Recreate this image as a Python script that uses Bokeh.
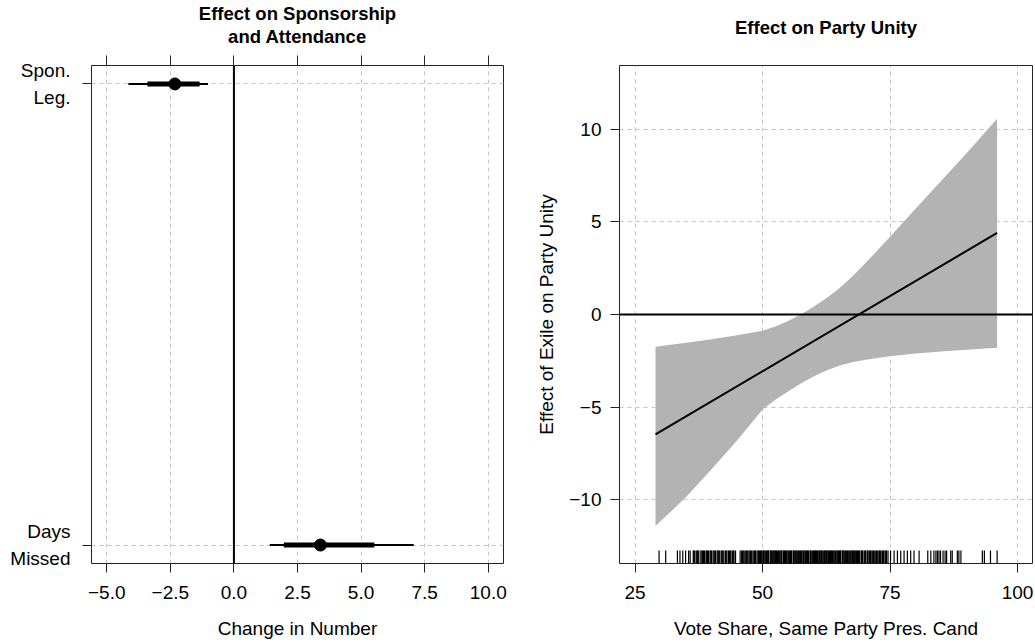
from bokeh.plotting import figure
from bokeh.layouts import row
from bokeh.models import Range1d, FixedTicker, LinearAxis, Span, ColumnDataSource, Title
from bokeh.embed import file_html
from bokeh.resources import INLINE

FONT = "Liberation Sans"

# ---------------- data: left panel ----------------
left_title_lines = ["Effect on Sponsorship", "and Attendance"]
cat_names = ["Spon.\nLeg.", "Days\nMissed"]
cat_pos = [2, 1]
est = [-2.32, 3.40]
ci95_lo = [-4.15, 1.41]
ci95_hi = [-1.02, 7.07]
ci90_lo = [-3.40, 1.96]
ci90_hi = [-1.35, 5.52]
left_ticks = [-5.0, -2.5, 0.0, 2.5, 5.0, 7.5, 10.0]
left_tick_labels = ["\u22125.0", "\u22122.5", "0.0", "2.5", "5.0", "7.5", "10.0"]

# ---------------- data: right panel ----------------
band_x = [29, 35, 40, 45, 50, 52.5, 55, 57.5, 60, 62.5, 65, 67.5, 70, 72.5, 75, 80, 85, 90, 96]
band_upper = [-1.74, -1.52, -1.33, -1.12, -0.88, -0.65, -0.35, 0.0, 0.42, 0.88, 1.4, 2.02, 2.72,
              3.45, 4.2, 5.7, 7.2, 8.7, 10.56]
band_lower = [-11.41, -9.85, -8.35, -6.8, -5.12, -4.6, -4.15, -3.72, -3.35, -3.02, -2.76, -2.58,
              -2.45, -2.34, -2.25, -2.1, -2.0, -1.9, -1.8]
fit_x = [29, 96]
fit_y = [-6.47, 4.40]
rug_x = [29.7, 31.0, 33.3, 33.8, 34.35, 34.9, 35.5, 35.8,
         36.4, 36.7, 37.0, 37.2, 37.5, 37.9, 38.1, 38.4, 38.6, 38.9, 39.2, 39.4, 39.7, 40.0,
         40.3, 40.5, 40.8, 41.1, 41.3, 41.6, 41.9, 42.2, 42.4, 42.7, 43.0, 43.3, 43.5, 43.8,
         44.1, 44.4, 44.7, 45.6, 45.9, 46.2, 46.4, 46.7, 47.0, 47.3, 47.5, 47.8, 48.1, 48.3,
         48.6, 48.9, 49.1, 49.4, 49.6, 49.9, 50.1, 50.3, 50.5, 50.8, 51.0, 51.2, 51.5, 51.7,
         51.9, 52.2, 52.4, 52.6, 52.9, 53.1, 53.4, 53.6, 53.8, 54.1, 54.3, 54.5, 54.8, 55.0,
         55.3, 55.5, 55.7, 56.0, 56.2, 56.4, 56.7, 56.9, 57.2, 57.4, 57.6, 57.9, 58.1, 58.3,
         58.6, 58.8, 59.0, 59.3, 59.5, 59.7, 60.0, 60.2, 60.4, 60.6, 60.9, 61.1, 61.3, 61.5,
         61.7, 62.0, 62.2, 62.4, 62.6, 62.8, 63.1, 63.3, 63.5, 63.7, 64.0, 64.2, 64.4, 64.6,
         64.9, 65.1, 65.3, 65.6, 65.8, 66.0, 66.3, 66.5, 66.8, 67.0, 67.3, 67.5, 67.8, 68.0,
         68.3, 68.6, 68.8, 69.1, 69.4, 69.6, 69.9, 70.2, 70.5, 70.7, 71.0, 71.3, 71.6, 71.9,
         72.2, 72.5, 72.8, 73.1, 73.4, 73.7, 74.0, 74.3, 74.6,
         36.55, 37.35, 38.25, 39.05, 39.85, 40.65, 41.45, 42.05, 42.85, 43.65, 44.25, 46.05,
         46.85, 47.65, 48.45, 49.25, 49.75, 50.2, 50.65, 51.1, 51.6, 52.05, 52.5, 52.75, 53.25,
         53.7, 54.2, 54.65, 55.15, 55.6, 56.1, 56.55, 57.05, 57.5, 58.0, 58.45, 58.9, 59.4,
         59.85, 60.3, 60.75, 61.2, 61.6, 62.1, 62.5, 62.95, 63.4, 63.85, 64.3, 64.75, 65.2,
         65.7, 66.15, 66.65, 67.15, 67.65, 68.15, 68.45, 68.95, 69.5, 70.05, 70.6, 71.15,
         71.75, 72.35, 72.95, 73.55, 74.15,
         75.1, 75.8, 76.45, 77.1, 77.75, 78.4, 79.05, 79.7, 80.7, 82.4, 83.0, 83.6, 84.0,
         84.3, 84.6, 84.9, 85.4, 85.8, 86.1, 86.9, 87.2, 88.2, 88.5, 88.9, 93.1, 93.5, 94.7, 96.0]
right_xticks = [25, 50, 75, 100]
right_xtick_labels = ["25", "50", "75", "100"]
right_yticks = [-10, -5, 0, 5, 10]
right_ytick_labels = ["\u221210", "\u22125", "0", "5", "10"]

GRID = "#C4C4C4"
FRAME = "#222222"
TXT = "#000000"
LBL = "19px"


def style_axis(ax):
    ax.axis_line_color = None
    ax.major_tick_line_color = FRAME
    ax.major_tick_out = 9
    ax.major_tick_in = 0
    ax.minor_tick_line_color = None
    ax.major_label_text_font = FONT
    ax.major_label_text_font_size = LBL
    ax.major_label_text_color = TXT
    ax.axis_label_text_font = FONT
    ax.axis_label_text_font_size = LBL
    ax.axis_label_text_font_style = "normal"
    ax.axis_label_text_color = TXT


def make_title(text, standoff):
    return Title(text=text, align="center", text_font=FONT, text_font_size="18.5px",
                 text_font_style="bold", text_color=TXT, standoff=standoff, text_line_height=1.0)


# ---------------- left figure ----------------
p1 = figure(width=520, height=644, x_range=Range1d(-5.6, 10.6), y_range=Range1d(0.96, 2.04),
            output_backend="svg", toolbar_location=None, title=None,
            min_border_left=91, min_border_right=17, min_border_top=63, min_border_bottom=81)
p1.outline_line_color = FRAME
p1.outline_line_width = 1
p1.background_fill_color = "white"
p1.border_fill_color = "white"

xa = p1.xaxis[0]
xa.ticker = FixedTicker(ticks=left_ticks)
xa.major_label_overrides = dict(zip(left_ticks, left_tick_labels))
xa.axis_label = "Change in Number"
style_axis(xa)
xa.major_label_standoff = 13
xa.axis_label_standoff = 16

ya = p1.yaxis[0]
ya.ticker = FixedTicker(ticks=cat_pos)
ya.major_label_overrides = dict(zip(cat_pos, cat_names))
style_axis(ya)
ya.major_label_standoff = 12
ya.major_label_orientation = "horizontal"
ya.major_label_text_line_height = 1.27

top = LinearAxis(ticker=FixedTicker(ticks=left_ticks),
                 major_label_overrides={t: "" for t in left_ticks})
style_axis(top)
top.major_tick_out = 10
top.major_label_standoff = 7
top.axis_label = " "
top.axis_label_text_font_size = "6px"
top.axis_label_standoff = 0
top.major_label_text_font_size = "0px"
p1.add_layout(top, "above")
p1.add_layout(make_title(left_title_lines[1], 0), "above")
p1.add_layout(make_title(left_title_lines[0], 0), "above")

p1.xgrid.ticker = FixedTicker(ticks=left_ticks)
p1.ygrid.ticker = FixedTicker(ticks=cat_pos)
for g in (p1.xgrid[0], p1.ygrid[0]):
    g.grid_line_color = GRID
    g.grid_line_dash = "4 4"
    g.grid_line_width = 1

p1.add_layout(Span(location=0, dimension="height", line_color="black", line_width=2))

src1 = ColumnDataSource(dict(y=cat_pos, est=est, lo95=ci95_lo, hi95=ci95_hi, lo90=ci90_lo, hi90=ci90_hi))
p1.segment(x0="lo95", x1="hi95", y0="y", y1="y", source=src1, line_color="black", line_width=2)
p1.segment(x0="lo90", x1="hi90", y0="y", y1="y", source=src1, line_color="black", line_width=5)
p1.scatter(x="est", y="y", source=src1, size=12, fill_color="black", line_color="black")

# ---------------- right figure ----------------
p2 = figure(width=515, height=644, x_range=Range1d(21.94, 102.94), y_range=Range1d(-13.43, 13.43),
            output_backend="svg", toolbar_location=None, title=None,
            min_border_left=99, min_border_right=3, min_border_top=64, min_border_bottom=81)
p2.outline_line_color = FRAME
p2.outline_line_width = 1
p2.background_fill_color = "white"
p2.border_fill_color = "white"

xb = p2.xaxis[0]
xb.ticker = FixedTicker(ticks=right_xticks)
xb.major_label_overrides = dict(zip(right_xticks, right_xtick_labels))
xb.axis_label = "Vote Share, Same Party Pres. Cand"
style_axis(xb)
xb.major_label_standoff = 13
xb.axis_label_standoff = 16

yb = p2.yaxis[0]
yb.ticker = FixedTicker(ticks=right_yticks)
yb.major_label_overrides = dict(zip(right_yticks, right_ytick_labels))
yb.axis_label = "Effect of Exile on Party Unity"
style_axis(yb)
yb.major_label_standoff = 9
yb.axis_label_standoff = 9

p2.add_layout(make_title(" ", 5), "above")
p2.add_layout(make_title("Effect on Party Unity", 0), "above")

p2.xgrid.ticker = FixedTicker(ticks=right_xticks)
p2.ygrid.ticker = FixedTicker(ticks=right_yticks)
for g in (p2.xgrid[0], p2.ygrid[0]):
    g.grid_line_color = GRID
    g.grid_line_dash = "4 4"
    g.grid_line_width = 1

src_band = ColumnDataSource(dict(x=band_x, lo=band_lower, hi=band_upper))
p2.varea(x="x", y1="lo", y2="hi", source=src_band, fill_color="#B3B3B3")
p2.add_layout(Span(location=0, dimension="width", line_color="black", line_width=2))
p2.line(x=fit_x, y=fit_y, line_color="black", line_width=2)

y_bottom = p2.y_range.start
rug_len = 0.7
p2.segment(x0=rug_x, x1=rug_x, y0=[y_bottom] * len(rug_x), y1=[y_bottom + rug_len] * len(rug_x),
           line_color="black", line_width=1.2)

layout = row(p1, p2)
open("out.html", "w").write(file_html(layout, INLINE))
